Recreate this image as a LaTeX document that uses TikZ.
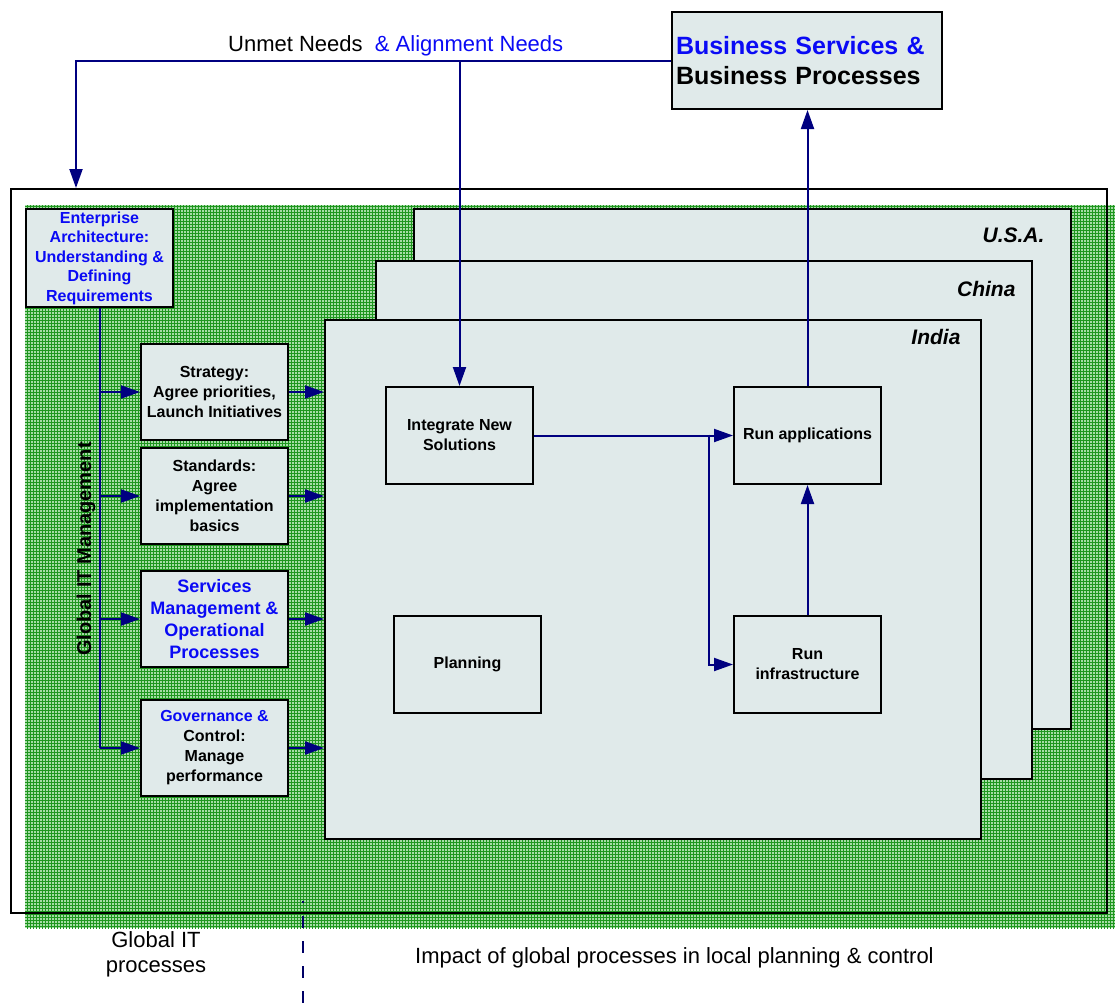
\documentclass[tikz,border=0pt]{standalone}
\usepackage{fontspec}
\setmainfont{Liberation Sans}
\usetikzlibrary{patterns,arrows.meta}
\definecolor{boxfill}{RGB}{224,234,234}
\definecolor{navyline}{RGB}{0,0,128}
\definecolor{hlblue}{RGB}{10,10,245}
\definecolor{greenbg}{RGB}{165,220,165}
\definecolor{greengrid}{RGB}{30,150,30}
\begin{document}
\begin{tikzpicture}[x=1pt,y=-1pt,
  box/.style={draw=black, line width=2pt, fill=boxfill, inner sep=0pt,
    align=center, anchor=north west, minimum width=147pt, minimum height=96pt,
    font=\bfseries\fontsize{16}{20}\selectfont},
  panel/.style={draw=black, line width=2pt, fill=boxfill, inner sep=0pt,
    anchor=north west},
  country/.style={anchor=base east, font=\bfseries\itshape\fontsize{21}{24}\selectfont},
  wire/.style={draw=navyline, line width=2pt},
  conn/.style={wire, -{Triangle[length=19pt,width=13pt]}},
  plain/.style={font=\fontsize{22}{25}\selectfont, inner sep=0pt}
]
\useasboundingbox (0,0) rectangle (1115,1007);

% textured green region of global processes
\fill[greenbg] (25,205) rectangle (1115,928);
\fill[pattern=grid, pattern color=greengrid] (25,205) rectangle (1115,928);

% outer frame
\node[draw=black, line width=2pt, inner sep=0pt, anchor=north west,
  minimum width=1096pt, minimum height=724pt] (outer) at (10,188) {};

% stacked country panels
\node[panel, minimum width=657pt, minimum height=520pt] (usa) at (413,208) {};
\node[country] (usalbl) at ([xshift=-24pt,yshift=-34pt]usa.north east) {U.S.A.};
\node[panel, minimum width=656pt, minimum height=518pt] (china) at (375,260) {};
\node[country] (chinalbl) at ([xshift=-14pt,yshift=-36pt]china.north east) {China};
\node[panel, minimum width=656pt, minimum height=519pt] (india) at (324,319) {};
\node[country] (indialbl) at ([xshift=-18pt,yshift=-25pt]india.north east) {India};

% business box
\node[box, minimum width=270pt, minimum height=97pt, align=left,
  text width=262pt, inner xsep=4pt,
  font=\bfseries\fontsize{25}{30}\selectfont] (biz) at (671,11)
  {\textcolor{hlblue}{Business Services \&}\\Business Processes};

% enterprise architecture
\node[box, minimum height=98pt, text=hlblue, font=\bfseries\fontsize{16}{19.5}\selectfont]
  (ea) at (25,208) {Enterprise\\Architecture:\\Understanding \&\\Defining\\Requirements};

% global management boxes
\node[box] (strat) at (140,343) {Strategy:\\Agree priorities,\\Launch Initiatives};
\node[box] (stand) at (140,447) {Standards:\\Agree\\implementation\\basics};
\node[box, text=hlblue, font=\bfseries\fontsize{18}{22}\selectfont] (serv) at (140,570)
  {Services\\Management \&\\Operational\\Processes};
\node[box] (gov) at (140,699) {\textcolor{hlblue}{Governance \&}\\Control:\\Manage\\performance};

% local boxes
\node[box, minimum height=97pt] (integ) at (385,386) {Integrate New\\Solutions};
\node[box, minimum height=97pt] (runapp) at (733,386) {Run applications};
\node[box, minimum height=97pt] (plan) at (393,615) {Planning};
\node[box, minimum height=97pt] (runinf) at (733,615) {Run\\infrastructure};

% vertical label
\node[rotate=90, font=\bfseries\fontsize{20}{24}\selectfont, inner sep=0pt] (gitm)
  at (86,549) {Global IT Management};

% feedback loop from business
\coordinate (eain) at (76,188);
\draw[conn] (biz.west) -| (eain);
\draw[conn] (biz.west -| integ.north) -- (integ.north);
\node[plain, anchor=base west] (needs) at (228,51)
  {Unmet Needs\ \ \textcolor{hlblue}{\& Alignment Needs}};

% trunk of global IT management
\draw[wire] (ea.south) -- (ea.south |- gov.west);
\draw[conn] (ea.south |- strat.west) -- (strat.west);
\draw[conn] (ea.south |- stand.west) -- (stand.west);
\draw[conn] (ea.south |- serv.west) -- (serv.west);
\draw[conn] (ea.south |- gov.west) -- (gov.west);

% into the local panel
\draw[conn] (strat.east) -- (strat.east -| india.west);
\draw[conn] (stand.east) -- (stand.east -| india.west);
\draw[conn] (serv.east) -- (serv.east -| india.west);
\draw[conn] (gov.east) -- (gov.east -| india.west);

% local flow
\coordinate (split) at (709,434.5);
\draw[conn] (integ.east) -- (runapp.west);
\draw[conn] (split) |- (runinf.west);
\draw[conn] (runinf.north) -- (runapp.south);
\draw[conn] (runapp.north) -- (runapp.north |- biz.south);

% divider and captions
\draw[draw=navyline!80!black, line width=2pt, dash pattern=on 12pt off 13pt, dash phase=10pt]
  (303,901) -- (303,1007);
\node[plain, align=center, anchor=north, font=\fontsize{22}{25}\selectfont] (glob)
  at (156,931) {Global IT\\processes};
\node[plain, anchor=base west] (impact) at (415,963)
  {Impact of global processes in local planning \& control};
\end{tikzpicture}
\end{document}
